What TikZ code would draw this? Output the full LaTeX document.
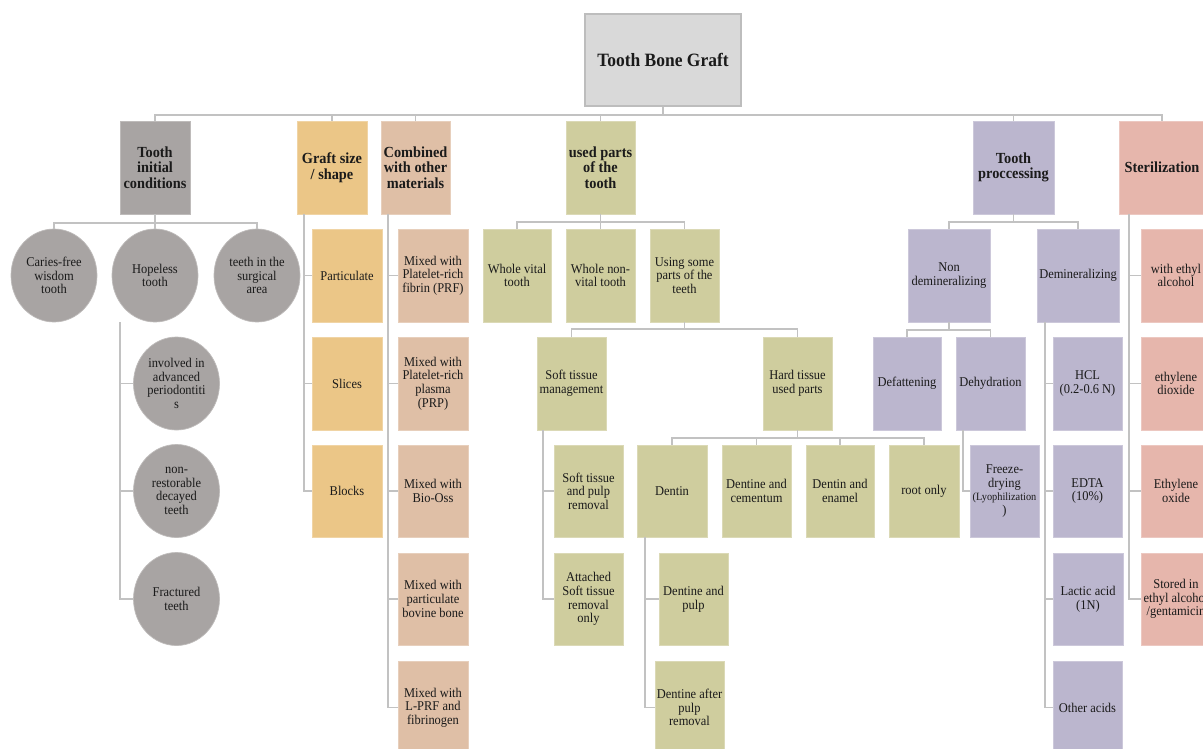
\documentclass[tikz,border=0pt]{standalone}
\usepackage{fontspec}
\setmainfont[FakeStretch=0.93]{Liberation Serif}
\usetikzlibrary{shapes.geometric}
\definecolor{cgray}{HTML}{A8A4A3}
\definecolor{corange}{HTML}{EBC687}
\definecolor{cpeach}{HTML}{DFBFA6}
\definecolor{colive}{HTML}{CFCD9E}
\definecolor{clav}{HTML}{BBB6CE}
\definecolor{cpink}{HTML}{E6B6AC}
\definecolor{croot}{HTML}{D9D9D9}
\definecolor{cedge}{HTML}{BDBDBD}
\definecolor{cline}{HTML}{C2C2C2}
\definecolor{ctxt}{HTML}{1A1A1A}
\newcommand\fRg{\fontsize{13.4}{13.6}\selectfont}
\newcommand\fSm{\fontsize{11.1}{13.6}\selectfont}
\newcommand\fHd{\fontsize{15.4}{15.5}\selectfont\bfseries}
\newcommand\fRt{\fontsize{18.8}{20}\selectfont\bfseries}
\begin{document}
\begin{tikzpicture}[x=1pt,y=-1pt,
  b/.style={rectangle, inner sep=1pt, align=center, font=\fRg, text=ctxt, line width=0.7pt, minimum height=93pt},
  hd/.style={font=\fHd},
  gy/.style={fill=cgray, draw=cgray!75!white},
  og/.style={fill=corange, draw=corange!75!white},
  pe/.style={fill=cpeach, draw=cpeach!75!white},
  ol/.style={fill=colive, draw=colive!75!white},
  lv/.style={fill=clav, draw=clav!75!white},
  pk/.style={fill=cpink, draw=cpink!75!white},
  cr/.style={ellipse, inner sep=0pt, align=center, font=\fRg, text=ctxt, fill=cgray, draw=cgray!75!white, line width=0.7pt, minimum width=86pt, minimum height=93pt},
  rootbox/.style={rectangle, fill=croot, draw=cedge, line width=2pt, minimum width=156pt, minimum height=92pt, font=\fRt, text=ctxt},
  ln/.style={draw=cline, line width=1.8pt}]
\useasboundingbox (0,0) rectangle (1203,748);
\clip (0,0) rectangle (1203,748);
\fill[white] (0,0) rectangle (1203,748);

% root and level 1
\node[rootbox] (root) at (663,60) {Tooth Bone Graft};
\node[b,hd,gy,minimum width=70pt] (ti) at (155,167.5) {Tooth\\initial\\conditions};
\node[b,hd,og,minimum width=70pt] (gs) at (332,167.5) {Graft size\\/ shape};
\node[b,hd,pe,minimum width=69pt] (cm) at (415.5,167.5) {Combined\\with other\\materials};
\node[b,hd,ol,minimum width=69pt] (up) at (600.5,167.5) {used parts\\of the\\tooth};
\node[b,hd,lv,minimum width=81pt] (tp) at (1013.5,167.5) {Tooth\\proccessing};
\node[b,hd,pk,minimum width=86pt] (st) at (1162,167.5) {Sterilization};

% tooth initial conditions
\node[cr] (car) at (54,275.5) {Caries-free\\wisdom\\tooth};
\node[cr] (hop) at (155,275.5) {Hopeless\\tooth};
\node[cr] (sur) at (257,275.5) {teeth in the\\surgical\\area};
\node[cr] (inv) at (176.5,383.5) {involved in\\advanced\\periodontiti\\s};
\node[cr] (nrs) at (176.5,491) {non-\\restorable\\decayed\\teeth};
\node[cr] (frc) at (176.5,599) {Fractured\\teeth};

% graft size
\node[b,og,minimum width=70pt] (pa) at (347,275.5) {Particulate};
\node[b,og,minimum width=70pt] (sl) at (347,383.5) {Slices};
\node[b,og,minimum width=70pt,minimum height=92pt] (bl) at (347,491) {Blocks};

% combined
\node[b,pe,minimum width=70pt] (m1) at (433,275.5) {Mixed with\\Platelet-rich\\fibrin (PRF)};
\node[b,pe,minimum width=70pt] (m2) at (433,383.5) {Mixed with\\Platelet-rich\\plasma\\(PRP)};
\node[b,pe,minimum width=70pt,minimum height=92pt] (m3) at (433,491) {Mixed with\\Bio-Oss};
\node[b,pe,minimum width=70pt,minimum height=92pt] (m4) at (433,599) {Mixed with\\particulate\\bovine bone};
\node[b,pe,minimum width=70pt] (m5) at (433,707.5) {Mixed with\\L-PRF and\\fibrinogen};

% used parts
\node[b,ol,minimum width=68pt] (wv) at (517,275.5) {Whole vital\\tooth};
\node[b,ol,minimum width=69pt] (wn) at (600.5,275.5) {Whole non-\\vital tooth};
\node[b,ol,minimum width=69pt] (us) at (684.5,275.5) {Using some\\parts of the\\teeth};
\node[b,ol,minimum width=69pt] (stm) at (571.5,383.5) {Soft tissue\\management};
\node[b,ol,minimum width=69pt] (htp) at (797.5,383.5) {Hard tissue\\used parts};
\node[b,ol,minimum width=69pt,minimum height=92pt] (stp) at (588.5,491) {Soft tissue\\and pulp\\removal};
\node[b,ol,minimum width=70pt,minimum height=92pt] (den) at (672,491) {Dentin};
\node[b,ol,minimum width=69pt,minimum height=92pt] (dce) at (756.5,491) {Dentine and\\cementum};
\node[b,ol,minimum width=68pt,minimum height=92pt] (den2) at (840,491) {Dentin and\\enamel};
\node[b,ol,minimum width=70pt,minimum height=92pt] (ro) at (924,491) {root only};
\node[b,ol,minimum width=69pt,minimum height=92pt] (ats) at (588.5,599) {Attached\\Soft tissue\\removal\\only};
\node[b,ol,minimum width=69pt,minimum height=92pt] (dp) at (693.5,599) {Dentine and\\pulp};
\node[b,ol,minimum width=69pt] (dap) at (689.5,707.5) {Dentine after\\pulp\\removal};

% tooth processing
\node[b,lv,minimum width=82pt] (nd) at (949,275.5) {Non\\demineralizing};
\node[b,lv,minimum width=82pt] (dm) at (1078,275.5) {Demineralizing};
\node[b,lv,minimum width=68pt] (def) at (907,383.5) {Defattening};
\node[b,lv,minimum width=69pt] (deh) at (990.5,383.5) {Dehydration};
\node[b,lv,minimum width=69pt,minimum height=92pt] (fd) at (1004.5,491) {Freeze-\\drying\\{\fSm(Lyophilization}\\)};
\node[b,lv,minimum width=69pt] (hcl) at (1087.5,383.5) {HCL\\(0.2-0.6 N)};
\node[b,lv,minimum width=69pt,minimum height=92pt] (edta) at (1087.5,491) {EDTA\\(10\%)};
\node[b,lv,minimum width=70pt,minimum height=92pt] (lac) at (1088,599) {Lactic acid\\(1N)};
\node[b,lv,minimum width=69pt] (oth) at (1087.5,707.5) {Other acids};

% sterilization
\node[b,pk,minimum width=70pt] (s1) at (1176,275.5) {with ethyl\\alcohol};
\node[b,pk,minimum width=70pt] (s2) at (1176,383.5) {ethylene\\dioxide};
\node[b,pk,minimum width=70pt,minimum height=92pt] (s3) at (1176,491) {Ethylene\\oxide};
\node[b,pk,minimum width=70pt,minimum height=92pt] (s4) at (1176,599) {Stored in\\ethyl alcohol\\/gentamicin};

% connectors
\foreach \c in {ti,gs,cm,up,tp,st} \draw[ln] (root.south) -- ++(0,8) -| (\c.north);
\foreach \c in {car,hop,sur} \draw[ln] (ti.south) -- ++(0,8.5) -| (\c.north);
\foreach \c in {inv,nrs,frc} \draw[ln] ([xshift=-35pt]hop.south) |- (\c.west);
\foreach \c in {pa,sl,bl} \draw[ln] ([xshift=7pt]gs.south west) |- (\c.west);
\foreach \c in {m1,m2,m3,m4,m5} \draw[ln] ([xshift=7pt]cm.south west) |- (\c.west);
\foreach \c in {wv,wn,us} \draw[ln] (up.south) -- ++(0,7.5) -| (\c.north);
\foreach \c in {stm,htp} \draw[ln] (us.south) -- ++(0,7) -| (\c.north);
\foreach \c in {stp,ats} \draw[ln] ([xshift=6pt]stm.south west) |- (\c.west);
\foreach \c in {den,dce,den2,ro} \draw[ln] (htp.south) -- ++(0,8) -| (\c.north);
\foreach \c in {dp,dap} \draw[ln] ([xshift=8pt]den.south west) |- (\c.west);
\foreach \c in {nd,dm} \draw[ln] (tp.south) -- ++(0,8) -| (\c.north);
\foreach \c in {def,deh} \draw[ln] (nd.south) -- ++(0,7.5) -| (\c.north);
\draw[ln] ([xshift=7pt]deh.south west) |- (fd.west);
\foreach \c in {hcl,edta,lac,oth} \draw[ln] ([xshift=8pt]dm.south west) |- (\c.west);
\foreach \c in {s1,s2,s3,s4} \draw[ln] ([xshift=10pt]st.south west) |- (\c.west);
\end{tikzpicture}
\end{document}
